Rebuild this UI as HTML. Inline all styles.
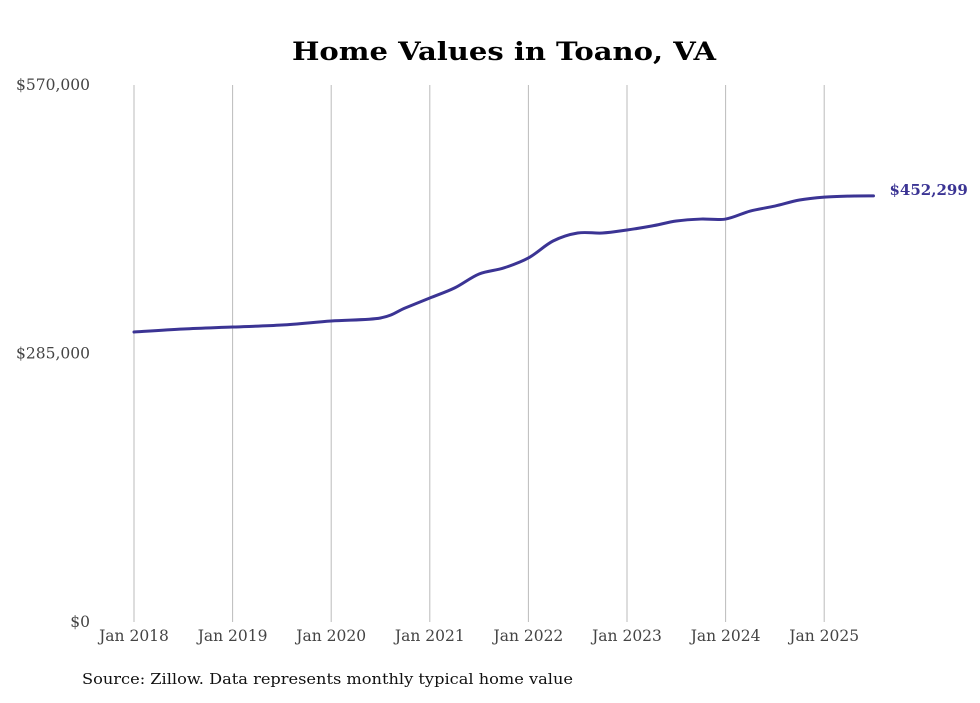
<!DOCTYPE html>
<html><head><meta charset="utf-8"><style>
body{margin:0;background:#fff;width:980px;height:699px;overflow:hidden;font-family:"DejaVu Serif",serif}
</style></head><body>
<svg id="chart" width="980" height="699" font-family="DejaVu Serif, serif">
<text x="504" y="60" text-anchor="middle" font-size="25" font-weight="bold" fill="#000" textLength="424" lengthAdjust="spacingAndGlyphs">Home Values in Toano, VA</text>
<g id="grid"></g><g id="yaxis"></g><g id="xaxis"></g><g id="series"></g>
<text x="82" y="684" font-size="15" fill="#111" textLength="491" lengthAdjust="spacingAndGlyphs">Source: Zillow. Data represents monthly typical home value</text>
</svg>
<script>
const dates=[2018,2018.5,2019,2019.5,2020,2020.5,2020.75,2021,2021.25,2021.5,2021.75,2022,2022.25,2022.5,2022.75,2023,2023.25,2023.5,2023.75,2024,2024.25,2024.5,2024.75,2025,2025.25,2025.5];
const values=[307800,311000,313100,315200,319500,322700,333300,343900,354500,369400,375800,386400,404400,412900,412900,416100,420300,425600,427700,427700,436200,441500,447900,451000,452100,452299];
const yTicks=[0,285000,570000];
const yTickLabels=["$0","$285,000","$570,000"];
const xTicks=[2018,2019,2020,2021,2022,2023,2024,2025];
const xTickLabels=["Jan 2018","Jan 2019","Jan 2020","Jan 2021","Jan 2022","Jan 2023","Jan 2024","Jan 2025"];
const endLabel="$452,299";
const NS="http://www.w3.org/2000/svg";
const x=d=>134+(d-2018)*98.6;
const y=v=>622-v/570000*537;
function mk(t,a,p){const e=document.createElementNS(NS,t);for(const k in a)e.setAttribute(k,a[k]);document.getElementById(p).appendChild(e);return e;}
xTicks.forEach((d,i)=>{
 const l=mk('line',{x1:x(d),x2:x(d),y1:85,y2:622,stroke:'#bbb','stroke-width':1},'grid');
 
 
 const t=mk('text',{x:x(d),y:641,'text-anchor':'middle','font-size':15.5,fill:'#444'},'xaxis');
 t.textContent=xTickLabels[i];
 
 
});
yTicks.forEach((v,i)=>{
 const t=mk('text',{x:90,y:y(v)+5,'text-anchor':'end','font-size':15.5,fill:'#444'},'yaxis');
 t.textContent=yTickLabels[i];
 
 
});
const P=dates.map((d,i)=>[x(d),y(values[i])]);
let dStr=`M${P[0][0]},${P[0][1]}`;
for(let i=0;i<P.length-1;i++){
 const p0=P[i-1]||P[i],p1=P[i],p2=P[i+1],p3=P[i+2]||p2;
 const c1=[p1[0]+(p2[0]-p0[0])/6,p1[1]+(p2[1]-p0[1])/6];
 const c2=[p2[0]-(p3[0]-p1[0])/6,p2[1]-(p3[1]-p1[1])/6];
 dStr+=` C${c1[0]},${c1[1]} ${c2[0]},${c2[1]} ${p2[0]},${p2[1]}`;
}
const path=mk('path',{d:dStr,fill:'none',stroke:'#3b3494','stroke-width':3,'stroke-linecap':'round'},'series');


const last=P[P.length-1];
const el=mk('text',{x:last[0]+16,y:last[1]-1,'font-size':15,'font-weight':'bold',fill:'#3b3494'},'series');
el.textContent=endLabel;


</script>
</body></html>
